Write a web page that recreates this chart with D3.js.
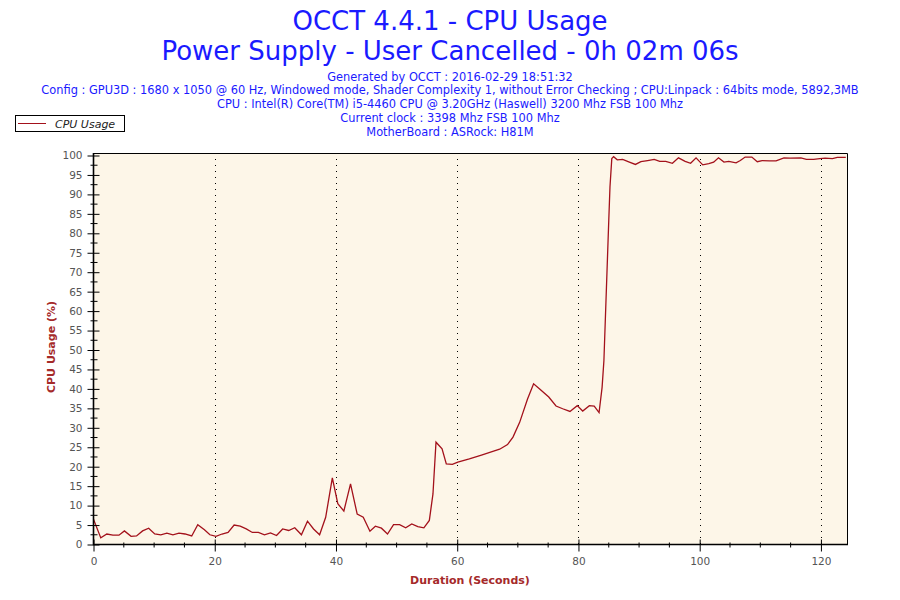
<!DOCTYPE html>
<html>
<head>
<meta charset="utf-8">
<script src="https://cdn.jsdelivr.net/npm/d3@7"></script>
<style>
  body { margin: 0; background: #fff; }
  svg text { font-family: "DejaVu Sans", Verdana, sans-serif; }
</style>
</head>
<body>
<div id="chart"></div>
<script>
// chart texts
const titleLines = ["OCCT 4.4.1 - CPU Usage", "Power Supply - User Cancelled - 0h 02m 06s"];
const infoLines = [
    "Generated by OCCT : 2016-02-29 18:51:32",
    "Config : GPU3D : 1680 x 1050 @ 60 Hz, Windowed mode, Shader Complexity 1, without Error Checking ; CPU:Linpack : 64bits mode, 5892,3MB",
    "CPU : Intel(R) Core(TM) i5-4460 CPU @ 3.20GHz (Haswell) 3200 Mhz FSB 100 Mhz",
    "Current clock : 3398 Mhz FSB 100 Mhz",
    "MotherBoard : ASRock: H81M"
];
const seriesName = "CPU Usage";

// samples: seconds / percent
const seconds = [
    0, 1.2, 2.2, 3.2, 4.2, 5.1, 6.2, 7.1, 8.1, 9.1,
    10.1, 11.1, 12.1, 13.1, 14.1, 15.1, 16.2, 17.2, 18.3, 19.2,
    20.2, 21.2, 22.2, 23.2, 24.2, 25.2, 26.2, 27.2, 28.2, 29.2,
    30.2, 31.2, 32.2, 33.2, 34.3, 35.3, 36.3, 37.3, 38.3, 39.4,
    40.3, 41.3, 42.4, 43.5, 44.5, 45.6, 46.5, 47.5, 48.5, 49.5,
    50.5, 51.5, 52.5, 53.5, 54.5, 55.4, 56.0, 56.5, 57.5, 58.2,
    59.2, 60.1, 62, 64, 66, 67, 68.3, 69.2, 70.3, 71.6,
    72.6, 73.6, 75.1, 76.3, 77.4, 78.6, 79.8, 80.7, 81.8, 82.6,
    83.4, 83.9, 84.2, 85.0, 85.2, 85.5, 85.8, 86.4, 87.3, 88.4,
    89.4, 90.3, 91.4, 92.5, 93.4, 94.4, 95.5, 96.5, 97.6, 98.5,
    99.4, 100.5, 101.5, 102.3, 103.1, 104.0, 104.8, 106.0, 106.7, 107.5,
    108.6, 109.5, 110.3, 111.5, 112.6, 113.9, 114.9, 116.7, 117.6, 118.8,
    119.8, 120.7, 121.9, 122.7, 124.1
];
const cpuUsage = [
    6.5, 1.7, 2.7, 2.4, 2.4, 3.5, 2.1, 2.2, 3.5, 4.2,
    2.7, 2.5, 2.9, 2.5, 2.9, 2.7, 2.2, 5.1, 3.8, 2.5,
    2.1, 2.7, 3.1, 5.0, 4.7, 4.0, 3.1, 3.1, 2.5, 3.0,
    2.3, 4.0, 3.6, 4.3, 2.5, 6.0, 4.0, 2.5, 7.0, 17.1,
    10.5, 8.6, 15.6, 7.8, 7.0, 3.4, 4.7, 4.2, 2.7, 5.1,
    5.1, 4.3, 5.3, 4.6, 4.3, 6.2, 13.0, 26.3, 24.6, 20.7,
    20.6, 21.2, 22.0, 23.0, 24.0, 24.5, 25.7, 27.6, 31.4, 37.4,
    41.3, 40.0, 37.9, 35.6, 34.9, 34.2, 35.7, 34.3, 35.7, 35.6,
    33.9, 40.4, 47.3, 83.3, 91.9, 99.2, 99.7, 98.9, 99.0, 98.3,
    97.7, 98.4, 98.7, 99.0, 98.5, 98.5, 98.0, 99.4, 98.5, 98.0,
    99.4, 97.6, 97.9, 98.3, 99.4, 98.3, 98.5, 98.1, 98.7, 99.6,
    99.6, 98.4, 98.7, 98.6, 98.6, 99.4, 99.3, 99.4, 99.0, 99.0,
    99.2, 99.3, 99.2, 99.5, 99.5
];

// axis ticks
const xMajor = [0, 20, 40, 60, 80, 100, 120];
const xMinor = [5, 10, 15, 25, 30, 35, 45, 50, 55, 65, 70, 75, 85, 90, 95, 105, 110, 115];
const yMajor = d3.range(0, 101, 5);
const yMinor = d3.range(2.5, 100, 5);

const config = {
    width: 900,
    height: 600,
    plot: { left: 93.5, right: 847, top: 153, bottom: 544.5, yTop: 155.5 },
    xMax: 124.3,
    lineColor: "#a3111b",
    plotFill: "#fdf6e8",
    titleColor: "#1a1aff",
    labelColor: "#a52a2a",
    tickColor: "#555"
};

const x = d3.scaleLinear().domain([0, config.xMax]).range([config.plot.left, config.plot.right]);
const y = d3.scaleLinear().domain([0, 100]).range([config.plot.bottom, config.plot.yTop]);

const svg = d3.select("#chart").append("svg")
    .attr("width", config.width)
    .attr("height", config.height)
    .attr("viewBox", [0, 0, config.width, config.height]);

// titles
svg.append("g").selectAll("text")
    .data(titleLines)
    .join("text")
    .attr("x", 450)
    .attr("y", (_, i) => 30 + i * 30)
    .attr("text-anchor", "middle")
    .attr("fill", config.titleColor)
    .style("font-size", "26px")
    .text(d => d);

svg.append("g").selectAll("text")
    .data(infoLines)
    .join("text")
    .attr("x", 450)
    .attr("y", (_, i) => 80.5 + i * 13.8)
    .attr("text-anchor", "middle")
    .attr("fill", config.titleColor)
    .style("font-size", "11.4px")
    .text(d => d);

// legend
const legend = svg.append("g");
legend.append("rect")
    .attr("x", 15.5).attr("y", 115.5)
    .attr("width", 109).attr("height", 16)
    .attr("fill", "#fff").attr("stroke", "#000");
legend.append("line")
    .attr("x1", 18).attr("x2", 46).attr("y1", 123.5).attr("y2", 123.5)
    .attr("stroke", config.lineColor);
legend.append("text")
    .attr("x", 55).attr("y", 127.5)
    .style("font-size", "11px").style("font-style", "italic")
    .attr("fill", "#222")
    .text(seriesName);

// plot area
svg.append("rect")
    .attr("x", config.plot.left).attr("y", config.plot.top)
    .attr("width", config.plot.right - config.plot.left)
    .attr("height", config.plot.bottom - config.plot.top)
    .attr("fill", config.plotFill);

// dotted vertical grid
svg.append("g").selectAll("line")
    .data(xMajor.filter(d => d > 0))
    .join("line")
    .attr("x1", d => Math.round(x(d)) + 0.5).attr("x2", d => Math.round(x(d)) + 0.5)
    .attr("y1", config.plot.top).attr("y2", config.plot.bottom)
    .attr("stroke", "#000")
    .attr("stroke-dasharray", "1,5");

// frame top and right
svg.append("path")
    .attr("d", `M${config.plot.left},${config.plot.top + 0.5}H${config.plot.right + 0.5}V${config.plot.bottom}`)
    .attr("fill", "none").attr("stroke", "#000");

// line
const line = d3.line().x(d => x(d[0])).y(d => y(d[1]));
svg.append("path")
    .datum(d3.zip(seconds, cpuUsage))
    .attr("fill", "none")
    .attr("stroke", config.lineColor)
    .attr("stroke-width", 1.3)
    .attr("d", line);

// y axis
const yAxis = svg.append("g")
    .attr("transform", `translate(${config.plot.left},0)`)
    .call(d3.axisLeft(y).tickValues(yMajor).tickSize(6).tickPadding(5))
    .call(g => g.select(".domain").remove());
yAxis.selectAll(".tick line").attr("x2", -6).attr("x1", 6).attr("stroke", "#000");
yAxis.selectAll(".tick text").attr("fill", config.tickColor).style("font-size", "10.5px")
    .attr("x", -11);
svg.append("g").selectAll("line")
    .data(yMinor)
    .join("line")
    .attr("x1", config.plot.left - 3).attr("x2", config.plot.left + 4)
    .attr("y1", d => y(d)).attr("y2", d => y(d))
    .attr("stroke", "#000");

// x axis
const xAxis = svg.append("g")
    .attr("transform", `translate(0,${config.plot.bottom})`)
    .call(d3.axisBottom(x).tickValues(xMajor).tickSize(7).tickPadding(6))
    .call(g => g.select(".domain").remove());
xAxis.selectAll(".tick line").attr("y1", -5).attr("y2", 7).attr("stroke", "#000");
xAxis.selectAll(".tick text").attr("fill", config.tickColor).style("font-size", "10.5px");
svg.append("g").selectAll("line")
    .data(xMinor)
    .join("line")
    .attr("x1", d => x(d)).attr("x2", d => x(d))
    .attr("y1", config.plot.bottom - 2).attr("y2", config.plot.bottom + 3)
    .attr("stroke", "#000");

// axis lines
svg.append("path")
    .attr("d", `M${config.plot.left},${config.plot.top}V${config.plot.bottom}H${config.plot.right + 1}`)
    .attr("fill", "none").attr("stroke", "#000").attr("stroke-width", 1.6);

// axis titles
svg.append("text")
    .attr("x", 470).attr("y", 584)
    .attr("text-anchor", "middle")
    .attr("fill", config.labelColor)
    .style("font-size", "11px").style("font-weight", "bold")
    .text("Duration (Seconds)");

svg.append("text")
    .attr("transform", "translate(55,347) rotate(-90)")
    .attr("text-anchor", "middle")
    .attr("fill", config.labelColor)
    .style("font-size", "11px").style("font-weight", "bold")
    .text("CPU Usage (%)");
</script>
</body>
</html>
